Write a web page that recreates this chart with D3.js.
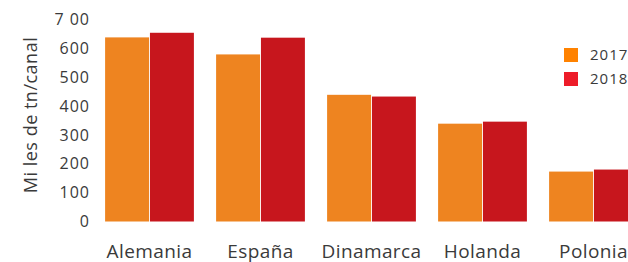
<!DOCTYPE html>
<html lang="es">
<head>
    <meta charset="UTF-8">
    <title>Miles de tn/canal</title>
    <script src="https://cdnjs.cloudflare.com/ajax/libs/d3/7.8.5/d3.min.js"></script>
    <style>
        body {
            margin: 0;
            background: #fff;
            overflow: hidden;
        }

        svg text {
            font-family: "Open Sans", sans-serif;
            fill: #3a3a3a;
        }

        .tick text {
            font-size: 16px;
            letter-spacing: 1px;
        }

        .cat text {
            font-size: 19px;
            letter-spacing: 0.4px;
        }

        rect.y2017 {
            fill: #ee8420;
        }

        rect.y2018 {
            fill: #c7161d;
        }
    </style>
</head>
<body>
<svg id="chart"></svg>

<script>
    const categories = ["Alemania", "España", "Dinamarca", "Holanda", "Polonia"];
    const years = ["2017", "2018"];
    const values2017 = [638, 579, 439, 339, 173];
    const values2018 = [654, 637, 433, 346, 180];
    const yTicks = [0, 100, 200, 300, 400, 500, 600, 700];
    const yTickLabels = ["0", "100", "200", "300", "400", "500", "600", "7 00"];

    const width = 628, height = 262;
    const svg = d3.select("#chart").attr("width", width).attr("height", height);

    const x = d3.scaleBand().domain(categories).range([94, 649]).paddingInner(0.2).paddingOuter(0.1);
    const xs = d3.scaleBand().domain(years).range([0, x.bandwidth()]).paddingInner(0.02);
    const y = d3.scaleLinear().domain([0, 700]).range([221.5, 19.5]);

    const series = {"2017": values2017, "2018": values2018};
    const data = categories.map((c, i) => ({cat: c, vals: years.map(yr => ({year: yr, v: series[yr][i]}))}));

    // bars
    const groups = svg.append("g").selectAll("g")
        .data(data)
        .enter().append("g")
        .attr("transform", d => `translate(${x(d.cat)},0)`);

    groups.selectAll("rect")
        .data(d => d.vals)
        .enter().append("rect")
        .attr("class", d => "y" + d.year)
        .attr("x", d => xs(d.year))
        .attr("y", d => y(d.v))
        .attr("width", xs.bandwidth())
        .attr("height", d => y(0) - y(d.v));

    // y axis (labels only)
    const yAxis = d3.axisLeft(y)
        .tickValues(yTicks)
        .tickFormat((d, i) => yTickLabels[i])
        .tickSize(0)
        .tickPadding(0);
    svg.append("g")
        .attr("transform", "translate(90,0)")
        .call(yAxis)
        .call(g => g.select(".domain").remove());

    // x axis (labels only)
    const xAxis = d3.axisBottom(x).tickSize(0).tickPadding(0);
    svg.append("g")
        .attr("class", "cat")
        .attr("transform", "translate(0,244)")
        .call(xAxis)
        .call(g => g.select(".domain").remove())
        .call(g => g.selectAll("text").attr("dy", "0.75em"));

    // y title
    svg.append("text")
        .attr("transform", "translate(37,115) rotate(-90)")
        .attr("text-anchor", "middle")
        .style("font-size", "18px")
        .style("letter-spacing", "0.5px")
        .text("Mi les de tn/canal");

    // legend
    const legendColors = {"2017": "#ff8200", "2018": "#ed1c29"};
    const legend = svg.append("g").attr("transform", "translate(564,48)")
        .selectAll("g")
        .data(years)
        .enter().append("g")
        .attr("transform", (d, i) => `translate(0,${i * 24})`);

    legend.append("rect")
        .attr("width", 14)
        .attr("height", 14)
        .attr("fill", d => legendColors[d]);

    legend.append("text")
        .attr("x", 26)
        .attr("y", 7)
        .attr("dy", "0.35em")
        .style("font-size", "15px")
        .style("letter-spacing", "1px")
        .text(d => d);
</script>
</body>
</html>
